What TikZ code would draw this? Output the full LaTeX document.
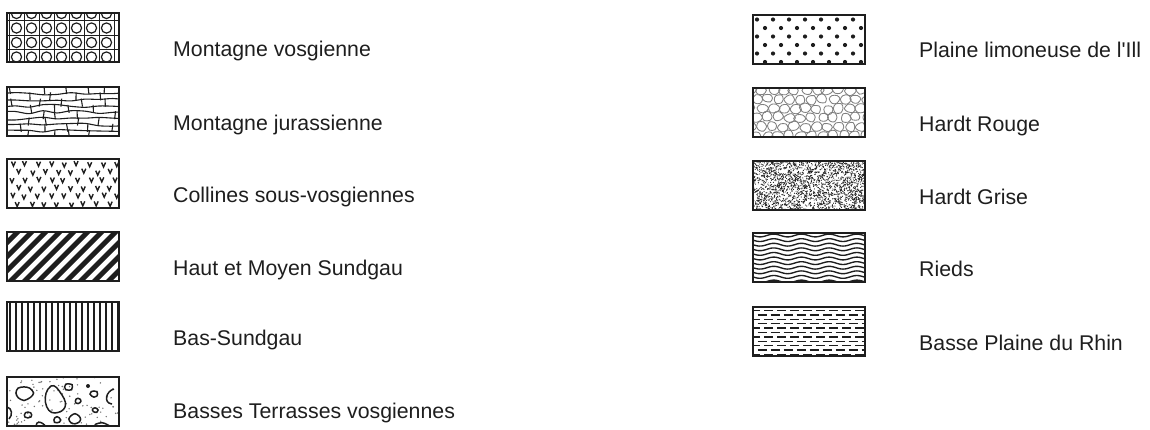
\documentclass[tikz,border=0pt]{standalone}
\usepackage{fontspec}
\setmainfont{Liberation Sans}
\usetikzlibrary{calc}
\definecolor{ink}{HTML}{1E1E1E}
\definecolor{txt}{HTML}{1E1E1E}
\tikzset{
  swatch/.style={minimum width=112pt, minimum height=49pt, inner sep=0pt, outer sep=0pt, draw=none},
  frame/.style={draw=ink, line width=2.6pt},
  lab/.style={anchor=base west, inner sep=0pt, text=txt, font=\fontsize{21.3}{25}\selectfont},
  thinink/.style={draw=ink, line width=1.1pt},
  cellline/.style={draw=black!50, line width=0.85pt},
  dashrow/.style={draw=ink, line width=1.3pt, dash pattern=on 9pt off 4pt},
}
\newcommand\inbox[2]{%
  \begin{scope}[shift={(#1.north west)}]
    \clip (0,0) rectangle (112,49);
    #2
  \end{scope}
  \draw[frame] (#1.north west) rectangle (#1.south east);}
\newcommand\blobb[4]{\draw[draw=ink, line width=1.5pt] plot[smooth cycle, variable=\a, samples at={0,45,...,315}] ({#1+#3*(1+0.15*rand)*cos(\a)},{#2+#4*(1+0.15*rand)*sin(\a)});}
\begin{document}
\begin{tikzpicture}[x=1pt, y=-1pt]
\pgfmathsetseed{7}
\useasboundingbox (0,0) rectangle (1150,429);
% swatch frames (named nodes)
\node[swatch] (b1) at (63,37.5) {};
\node[swatch] (b2) at (63,111.5) {};
\node[swatch] (b3) at (63,183.5) {};
\node[swatch] (b4) at (63,256.5) {};
\node[swatch] (b5) at (63,326.5) {};
\node[swatch] (b6) at (63,401.5) {};
\node[swatch] (r1) at (809,39.5) {};
\node[swatch] (r2) at (809,112.5) {};
\node[swatch] (r3) at (809,185.5) {};
\node[swatch] (r4) at (809,257.5) {};
\node[swatch] (r5) at (809,331.5) {};
% 1 Montagne vosgienne : grid with circles
\inbox{b1}{%
  \foreach \i in {0,...,7} \draw[draw=ink, line width=0.9pt] (2+15*\i,0) -- (2+15*\i,49);
  \foreach \j in {7.75,22.25,36.75} \draw[draw=ink, line width=0.9pt] (0,\j) -- (112,\j);
  \foreach \i in {0,...,6} \foreach \j in {0.5,15,29.5,44} \draw[draw=ink, line width=1.2pt] (9.5+15*\i,\j) circle (5.1);
}
% 2 Montagne jurassienne : flagstones
\inbox{b2}{%
  \foreach \j in {1,...,7} {
    \draw[thinink] plot[smooth, variable=\t, samples at={-6,8,...,122}] (\t,{\j*6.3+1.5*rand});
  }
  \foreach \j in {0,...,7} \foreach \k in {0,...,4} {
    \pgfmathsetmacro\xx{6+\k*24+mod(\j,2)*12+8*rand}
    \draw[thinink] (\xx,\j*6.3-1) -- ({\xx+1.5*rand},\j*6.3+7);
  }
}
% 3 Collines sous-vosgiennes : v marks
\inbox{b3}{%
  \foreach \j in {0,...,5} \foreach \i in {0,...,8} {
    \pgfmathsetmacro\xx{5+13*\i+6.5*mod(\j,2)+1.5*rand}
    \pgfmathsetmacro\yy{5+8*\j+1*rand}
    \draw[draw=ink, line width=1.4pt, line join=miter] (\xx-2,\yy-2.3) -- (\xx,\yy+2.2) -- (\xx+2,\yy-2.3);
  }
}
% 4 Haut et Moyen Sundgau : thick diagonal stripes
\inbox{b4}{%
  \foreach \i in {-4,...,9} \fill[ink] (\i*14,49) -- (\i*14+49,0) -- (\i*14+56,0) -- (\i*14+7,49) -- cycle;
}
% 5 Bas-Sundgau : vertical stripes
\inbox{b5}{%
  \foreach \i in {0,...,18} \draw[draw=ink, line width=2.4pt] (3+6*\i,0) -- (3+6*\i,49);
}
% 6 Basses Terrasses vosgiennes : pebbles and dots
\inbox{b6}{%
  \foreach \k in {1,...,90} \fill[black!55] ({56+56*rand},{24.5+24.5*rand}) circle (0.8);
  \blobb{17}{16}{9}{7}
  \draw[draw=ink, line width=1.5pt] (44,9) .. controls (34,16) and (38,37) .. (48,36) .. controls (58,35) and (62,28) .. (55,18) .. controls (51,12) and (48,7) .. (44,9) -- cycle;
  \blobb{62}{10}{4}{3.6}
  \fill[ink] (81,9) circle (2);
  \blobb{87}{17}{3.8}{3.2}
  \draw[draw=ink, line width=1.5pt] (107,12) .. controls (99,14) and (96,26) .. (105,27);
  \blobb{71}{24}{3}{2.6}
  \blobb{88}{33}{2.8}{2.4}
  \blobb{68}{42}{6}{5}
  \blobb{50}{43}{3.5}{3}
  \blobb{21}{38}{4}{3}
  \draw[draw=ink, line width=1.5pt] (0,30) .. controls (5,31) and (6,38) .. (2,42);
  \blobb{33}{49}{4.5}{3.5}
  \blobb{95}{50}{8}{4}
  \blobb{9}{52}{7}{4}
}
% 7 Plaine limoneuse de l'Ill : dots
\inbox{r1}{%
  \foreach \j in {0,...,5} \foreach \i in {0,...,7} \fill[ink] ({4+16*\i+8*mod(\j,2)},{4.5+8.5*\j}) circle (2.1);
}
% 8 Hardt Rouge : cobbles
\inbox{r2}{%
  \foreach \r in {0,...,5} \foreach \c in {0,...,10} {
    \pgfmathsetmacro\cx{\c*11+mod(\r,2)*5.5-2+1.5*rand}
    \pgfmathsetmacro\cy{\r*9.2+2+1.2*rand}
    \draw[cellline] plot[smooth cycle, variable=\a, samples at={0,60,...,300}] ({\cx+5.2*(1+0.2*rand)*cos(\a)},{\cy+4.5*(1+0.2*rand)*sin(\a)});
  }
}
% 9 Hardt Grise : speckle
\inbox{r3}{%
  \foreach \k in {1,...,1400} \fill[ink] ({56+56*rand},{24.5+24.5*rand}) circle (0.6);
  \foreach \k in {1,...,500} \draw[draw=ink, line width=0.7pt] ({56+56*rand},{24.5+24.5*rand}) -- ++({2.2*rand},{2.2*rand});
}
% 10 Rieds : wavy lines
\inbox{r4}{%
  \foreach \j in {0,...,10} {
    \pgfmathsetmacro\yy{2.5+4.6*\j}
    \draw[draw=ink, line width=1.35pt] plot[smooth, variable=\u, samples at={0,2,...,114}] (\u,{\yy+1.4*sin(13*\u)});
  }
}
% 11 Basse Plaine du Rhin : staggered dashes
\inbox{r5}{%
  \foreach \j in {0,2,...,10} \draw[dashrow, dash phase=0pt] (-2,3.5+4.4*\j) -- (114,3.5+4.4*\j);
  \foreach \j in {1,3,...,9} \draw[dashrow, dash phase=6.5pt] (-2,3.5+4.4*\j) -- (114,3.5+4.4*\j);
}
% labels
\node[lab] (t1) at (173,56) {Montagne vosgienne};
\node[lab] (t2) at (173,130) {Montagne jurassienne};
\node[lab] (t3) at (173,202) {Collines sous-vosgiennes};
\node[lab] (t4) at (173,275) {Haut et Moyen Sundgau};
\node[lab] (t5) at (173,345) {Bas-Sundgau};
\node[lab] (t6) at (173,418) {Basses Terrasses vosgiennes};
\node[lab] (u1) at (919,57) {Plaine limoneuse de l\textquotesingle Ill};
\node[lab] (u2) at (919,131) {Hardt Rouge};
\node[lab] (u3) at (919,204) {Hardt Grise};
\node[lab] (u4) at (919,276) {Rieds};
\node[lab] (u5) at (919,350) {Basse Plaine du Rhin};
\end{tikzpicture}
\end{document}
